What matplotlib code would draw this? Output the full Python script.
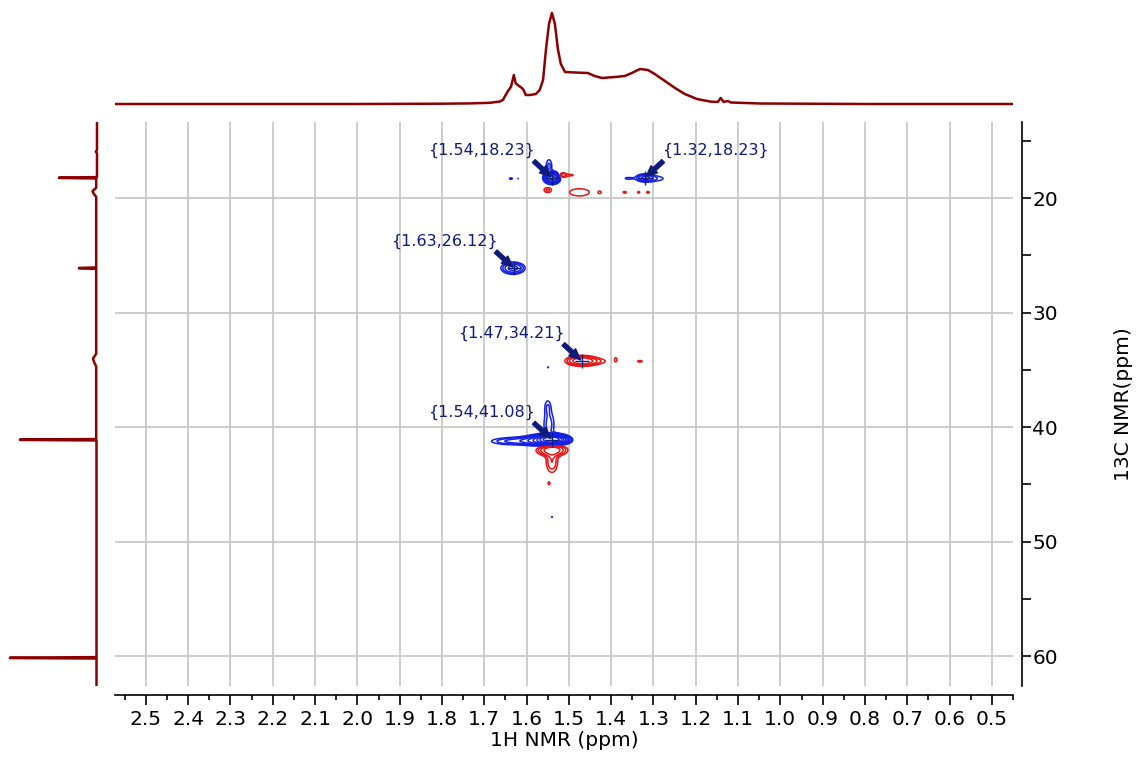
import numpy as np
import matplotlib
matplotlib.use('Agg')
from matplotlib import pyplot as plt
from matplotlib.ticker import MultipleLocator, FormatStrFormatter

# 1H projection trace (ppm, intensity)
proj_h_ppm = [2.573, 2.0, 1.80, 1.734, 1.687, 1.663, 1.656, 1.644, 1.637, 1.630,
              1.626, 1.621, 1.611, 1.607, 1.602, 1.592, 1.578, 1.569, 1.561, 1.554,
              1.547, 1.540, 1.533, 1.526, 1.519, 1.509, 1.486, 1.455, 1.439, 1.422,
              1.391, 1.368, 1.351, 1.332, 1.313, 1.297, 1.273, 1.249, 1.226, 1.197,
              1.167, 1.148, 1.141, 1.134, 1.124, 1.117, 1.048, 0.80, 0.45]
proj_h_int = [0, 0, 0.3, 0.6, 1.2, 2.5, 4, 13, 17, 29,
              21, 19, 16, 14, 9, 9, 10, 14, 24, 55,
              80, 91, 80, 55, 40, 32, 31.5, 31, 28, 26,
              27, 28, 31, 35, 34, 30, 23, 16, 10, 5,
              2.5, 2, 6, 2, 3, 1.5, 0.5, 0, 0]

# 13C projection trace (ppm, intensity)
proj_c_ppm = [13.36, 15.80, 15.95, 16.10, 18.17, 18.21, 18.25, 18.29,
              19.10, 19.40, 19.60, 19.90, 26.06, 26.10, 26.14, 26.18,
              33.60, 34.00, 34.30, 34.70, 41.04, 41.08, 41.12, 41.16,
              60.08, 60.12, 60.16, 60.20, 62.60]
proj_c_int = [0, 0, 1.2, 0, 0, 38, 38, 0.8,
              0.8, 4.5, 3.5, 0.8, 0.8, 18, 18, 0.8,
              0.8, 4, 3, 0.8, 0.8, 77, 77, 0.5,
              0.5, 87, 87, 0.5, 0.5]

# HSQC cross peaks: 1H shift, 13C shift, widths, amplitude (negative = red)
peak_h = [1.540, 1.555, 1.600, 1.650, 1.547, 1.550,
          1.540, 1.547, 1.637, 1.620,
          1.320, 1.300, 1.360,
          1.632,
          1.549, 1.540,
          1.540, 1.540, 1.547,
          1.515, 1.495, 1.550, 1.475, 1.427, 1.368, 1.335, 1.313,
          1.470, 1.445, 1.389, 1.332]
peak_c = [41.08, 41.15, 41.20, 41.25, 39.80, 38.20,
          18.23, 17.20, 18.30, 18.30,
          18.23, 18.30, 18.28,
          26.12,
          34.78, 47.85,
          42.00, 43.00, 44.90,
          18.00, 18.00, 19.30, 19.50, 19.50, 19.50, 19.50, 19.50,
          34.21, 34.25, 34.10, 34.25]
peak_wh = [0.016, 0.025, 0.040, 0.030, 0.010, 0.006,
           0.009, 0.006, 0.004, 0.002,
           0.012, 0.025, 0.010,
           0.016,
           0.002, 0.002,
           0.020, 0.010, 0.003,
           0.008, 0.008, 0.008, 0.024, 0.004, 0.006, 0.004, 0.005,
           0.020, 0.030, 0.003, 0.008]
peak_wc = [0.20, 0.25, 0.22, 0.20, 0.90, 0.50,
           0.25, 0.50, 0.08, 0.05,
           0.20, 0.22, 0.10,
           0.30,
           0.05, 0.05,
           0.30, 0.70, 0.15,
           0.18, 0.08, 0.20, 0.32, 0.12, 0.12, 0.12, 0.12,
           0.25, 0.22, 0.20, 0.10]
peak_amp = [60, 12, 3, 1.2, 2.0, 1.4,
            20, 1.8, 1.4, 1.1,
            4, 1.5, 1.2,
            5,
            1.2, 1.2,
            -6, -2.5, -1.3,
            -2.2, -1.2, -1.8, -1.6, -1.2, -1.2, -1.2, -1.2,
            -6, -1.5, -1.25, -1.25]

# picked peaks with labels
label_h = [1.54, 1.32, 1.63, 1.47, 1.54]
label_c = [18.23, 18.23, 26.12, 34.21, 41.08]
label_side = ['left', 'right', 'left', 'left', 'left']

pos_levels = [1, 1.6, 2.5, 4, 6.3, 10, 16, 25, 40]
neg_levels = [-4, -2.5, -1.6, -1]

H_LIM = (2.573, 0.45)
C_LIM = (62.6, 13.36)

DARKRED = '#8b0000'
BLUE = '#1420e6'
RED = '#e61414'
NAVY = '#0f1a7a'
GRID = '#c8c8c8'

fig = plt.figure(figsize=(11.38, 7.61), dpi=100)

ax = fig.add_axes([115 / 1138, 1 - 686 / 761, 898 / 1138, 564 / 761])
top = fig.add_axes([115 / 1138, 1 - 106 / 761, 898 / 1138, 100 / 761])
side = fig.add_axes([5 / 1138, 1 - 686 / 761, 94 / 1138, 564 / 761])

# projections
top.plot(proj_h_ppm, proj_h_int, color=DARKRED, lw=1.8)
top.set_xlim(*H_LIM)
top.set_ylim(-2, 98)
top.axis('off')

side.plot(proj_c_int, proj_c_ppm, color=DARKRED, lw=1.8)
side.set_xlim(92, -2)
side.set_ylim(*C_LIM)
side.axis('off')

# 2D spectrum built from the peak table
hh = np.linspace(1.15, 1.80, 900)
cc = np.linspace(14.0, 50.0, 1200)
H, C = np.meshgrid(hh, cc)
Z = np.zeros_like(H)
for h0, c0, wh, wc, a in zip(peak_h, peak_c, peak_wh, peak_wc, peak_amp):
    Z += a * np.exp(-0.5 * ((H - h0) / wh) ** 2 - 0.5 * ((C - c0) / wc) ** 2)

ax.contour(H, C, Z, levels=pos_levels, colors=BLUE, linewidths=1.1, zorder=3)
ax.contour(H, C, Z, levels=neg_levels, colors=RED, linewidths=1.1,
           linestyles='solid', zorder=3)

for h, c, s in zip(label_h, label_c, label_side):
    txt = '{%.2f,%.2f}' % (h, c)
    if s == 'left':
        off, ha, rp = (-12, 14), 'right', (0.95, 0.05)
    else:
        off, ha, rp = (12, 14), 'left', (0.05, 0.05)
    ax.annotate(txt, xy=(h, c), xytext=off, textcoords='offset points',
                ha=ha, va='bottom', fontsize=11.5, color=NAVY, zorder=5,
                arrowprops=dict(arrowstyle='simple,head_length=0.7,head_width=0.6,tail_width=0.25',
                                color=NAVY, shrinkA=0, shrinkB=1, relpos=rp))
    ax.plot(h, c, marker='+', ms=10, mew=1.0, color=NAVY, zorder=6)

# axes
ax.set_xlim(*H_LIM)
ax.set_ylim(*C_LIM)
ax.set_xticks(np.arange(0.5, 2.51, 0.1))
ax.xaxis.set_major_formatter(FormatStrFormatter('%.1f'))
ax.xaxis.set_minor_locator(MultipleLocator(0.05))
ax.set_yticks([20, 30, 40, 50, 60])
ax.yaxis.set_minor_locator(MultipleLocator(5))
ax.yaxis.tick_right()
ax.yaxis.set_label_position('right')
ax.grid(True, which='major', color=GRID, lw=1.3)
ax.set_axisbelow(True)

for s in ['top', 'left']:
    ax.spines[s].set_visible(False)
for s in ['bottom', 'right']:
    ax.spines[s].set_position(('outward', 6.5))
    ax.spines[s].set_linewidth(1.2)

ax.tick_params(axis='x', which='major', length=7, width=1.2, labelsize=14.5, pad=4)
ax.tick_params(axis='x', which='minor', length=3.6, width=1.2)
ax.tick_params(axis='y', which='major', length=6.5, width=1.2, labelsize=14.5, pad=1)
ax.tick_params(axis='y', which='minor', length=6.5, width=1.2)

ax.set_xlabel('1H NMR (ppm)', fontsize=14.5, labelpad=1)
ax.set_ylabel('13C NMR(ppm)', fontsize=14.5)
ax.yaxis.set_label_coords(1.112, 0.5)

fig.savefig('out.png', dpi=100)
